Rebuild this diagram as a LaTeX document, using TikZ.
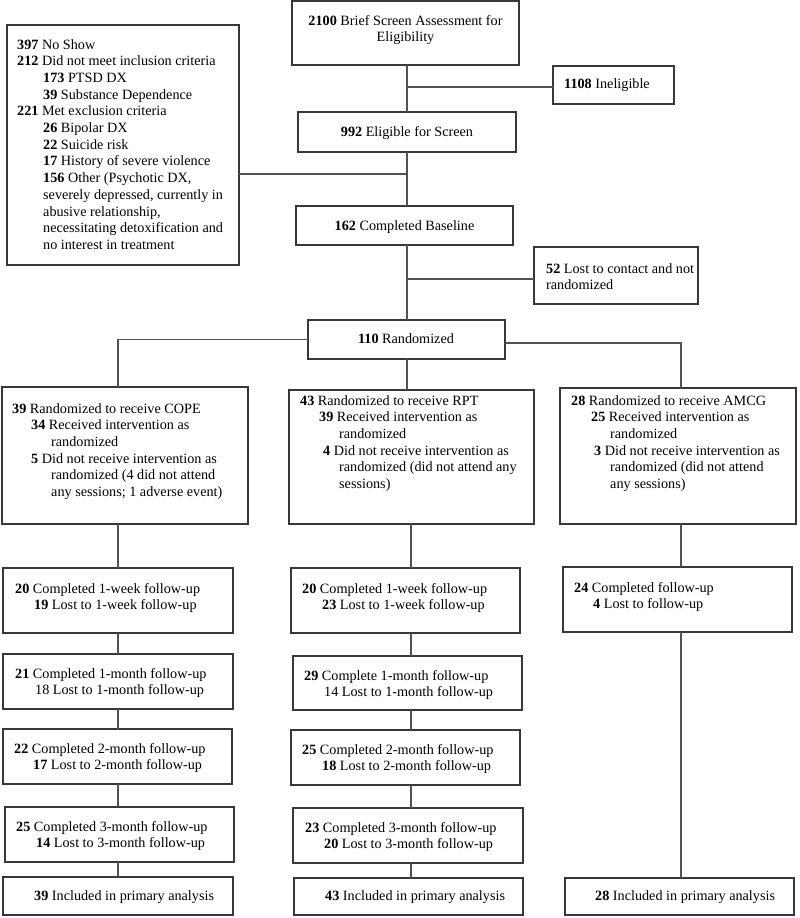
\documentclass[tikz,border=0pt]{standalone}
\usepackage{fontspec}
\setmainfont{Liberation Serif}
\usetikzlibrary{calc}
\newcommand\mybox[5]{\node[box,minimum width={#4-#2},minimum height={#5-#3}] (#1) at ({(#2+#4)/2},{(#3+#5)/2}) {};}
\tikzset{
  box/.style={draw=black!78,line width=1.1pt,inner sep=0pt,outer sep=0pt},
  txt/.style={inner sep=0pt,align=left,font=\fontsize{14.2}{16.7}\selectfont},
  ctxt/.style={inner sep=0pt,align=center,font=\fontsize{14.2}{16.7}\selectfont},
  conn/.style={draw=black!68,line width=1.1pt}
}
\begin{document}
\begin{tikzpicture}[x=1pt,y=-1pt]
\useasboundingbox (0,0) rectangle (800,918);
% boxes
\mybox{top}{292}{1}{519}{65}
\mybox{inel}{553}{66}{674}{104}
\mybox{elig}{298}{112}{516}{152}
\mybox{excl}{7}{25}{239}{265}
\mybox{base}{296}{206}{513}{245}
\mybox{lost}{534}{247}{698}{304}
\mybox{rand}{308}{320}{505}{359}
\mybox{cope}{2}{387}{248}{524}
\mybox{rpt}{289}{390}{534}{524}
\mybox{amcg}{560}{388}{796}{524}
\mybox{ca}{3}{568}{233}{633}
\mybox{cb}{3}{654}{233}{709}
\mybox{cc}{3}{729}{232}{784}
\mybox{cd}{5}{807}{234}{862}
\mybox{ce}{3}{877}{233}{915}
\mybox{ra}{291}{568}{520}{633}
\mybox{rb}{293}{656}{522}{710}
\mybox{rc}{291}{730}{520}{785}
\mybox{rd}{293}{808}{523}{863}
\mybox{re}{294}{878}{523}{915}
\mybox{aa}{563}{567}{792}{632}
\mybox{ae}{565}{878}{794}{915}
% texts
\node[ctxt,anchor=north] (top-t) at (405.5,15) {\textbf{2100} Brief Screen Assessment for\\Eligibility};
\node[txt,anchor=west] (inel-t) at (564,85) {\textbf{1108} Ineligible};
\node[txt] (elig-t) at (407,133) {\textbf{992} Eligible for Screen};
\node[txt] (base-t) at (404.5,227) {\textbf{162} Completed Baseline};
\node[txt,anchor=north west] (lost-t) at (546,263) {\textbf{52} Lost to contact and not\\randomized};
\node[txt] (rand-t) at (406,339) {\textbf{110} Randomized};
\node[txt,anchor=north west] (excl-t) at (17,39) {\textbf{397} No Show\\
\textbf{212} Did not meet inclusion criteria\\
\hspace*{26pt}\textbf{173} PTSD DX\\
\hspace*{26pt}\textbf{39} Substance Dependence\\
\textbf{221} Met exclusion criteria\\
\hspace*{26pt}\textbf{26} Bipolar DX\\
\hspace*{26pt}\textbf{22} Suicide risk\\
\hspace*{26pt}\textbf{17} History of severe violence\\
\hspace*{26pt}\textbf{156} Other (Psychotic DX,\\
\hspace*{26pt}severely depressed, currently in\\
\hspace*{26pt}abusive relationship,\\
\hspace*{26pt}necessitating detoxification and\\
\hspace*{26pt}no interest in treatment};
\node[txt,anchor=north west] (cope-t) at (12,403) {\textbf{39} Randomized to receive COPE\\
\hspace*{19pt}\textbf{34} Received intervention as\\
\hspace*{39pt}randomized\\
\hspace*{19pt}\textbf{5} Did not receive intervention as\\
\hspace*{39pt}randomized (4 did not attend\\
\hspace*{39pt}any sessions; 1 adverse event)};
\node[txt,anchor=north west] (rpt-t) at (300,395) {\textbf{43} Randomized to receive RPT\\
\hspace*{19pt}\textbf{39} Received intervention as\\
\hspace*{39pt}randomized\\
\hspace*{23pt}\textbf{4} Did not receive intervention as\\
\hspace*{39pt}randomized (did not attend any\\
\hspace*{39pt}sessions)};
\node[txt,anchor=north west] (amcg-t) at (571,395) {\textbf{28} Randomized to receive AMCG\\
\hspace*{20pt}\textbf{25} Received intervention as\\
\hspace*{39pt}randomized\\
\hspace*{23pt}\textbf{3} Did not receive intervention as\\
\hspace*{39pt}randomized (did not attend\\
\hspace*{39pt}any sessions)};
\node[txt,anchor=north west] (ca-t) at (15,583) {\textbf{20} Completed 1-week follow-up\\\hspace*{19pt}\textbf{19} Lost to 1-week follow-up};
\node[txt,anchor=north west] (cb-t) at (15,668) {\textbf{21} Completed 1-month follow-up\\\hspace*{20pt}18 Lost to 1-month follow-up};
\node[txt,anchor=north west] (cc-t) at (14,743) {\textbf{22} Completed 2-month follow-up\\\hspace*{19pt}\textbf{17} Lost to 2-month follow-up};
\node[txt,anchor=north west] (cd-t) at (16,821) {\textbf{25} Completed 3-month follow-up\\\hspace*{20pt}\textbf{14} Lost to 3-month follow-up};
\node[txt,anchor=west] (ce-t) at (34,897) {\textbf{39} Included in primary analysis};
\node[txt,anchor=north west] (ra-t) at (302,583) {\textbf{20} Completed 1-week follow-up\\\hspace*{20pt}\textbf{23} Lost to 1-week follow-up};
\node[txt,anchor=north west] (rb-t) at (304,670) {\textbf{29} Complete 1-month follow-up\\\hspace*{20pt}14 Lost to 1-month follow-up};
\node[txt,anchor=north west] (rc-t) at (302,744) {\textbf{25} Completed 2-month follow-up\\\hspace*{20pt}\textbf{18} Lost to 2-month follow-up};
\node[txt,anchor=north west] (rd-t) at (305,822) {\textbf{23} Completed 3-month follow-up\\\hspace*{19pt}\textbf{20} Lost to 3-month follow-up};
\node[txt,anchor=west] (re-t) at (325,897) {\textbf{43} Included in primary analysis};
\node[txt,anchor=north west] (aa-t) at (574,582) {\textbf{24} Completed follow-up\\\hspace*{19pt}\textbf{4} Lost to follow-up};
\node[txt,anchor=west] (ae-t) at (595,897) {\textbf{28} Included in primary analysis};
% connector columns
\coordinate (sx) at (407,0);
\coordinate (x1) at (118,0);
\coordinate (x2) at (411,0);
\coordinate (x3) at (681,0);
\coordinate (j1) at (407,87);
\coordinate (j2) at (407,174);
\coordinate (j3) at (407,279);
\coordinate (rr) at (505,343);
% connectors
\draw[conn] (top.south -| sx) -- (elig.north -| sx);
\draw[conn] (j1) -- (inel.west |- j1);
\draw[conn] (elig.south -| sx) -- (base.north -| sx);
\draw[conn] (excl.east |- j2) -- (j2);
\draw[conn] (base.south -| sx) -- (rand.north -| sx);
\draw[conn] (j3) -- (lost.west |- j3);
\draw[conn] (rand.south -| sx) -- (rpt.north -| sx);
\draw[conn] (rand.west) -| (cope.north -| x1);
\draw[conn] (rr) -| (amcg.north -| x3);
\draw[conn] (cope.south -| x1) -- (ca.north -| x1);
\draw[conn] (ca.south -| x1) -- (cb.north -| x1);
\draw[conn] (cb.south -| x1) -- (cc.north -| x1);
\draw[conn] (cc.south -| x1) -- (cd.north -| x1);
\draw[conn] (cd.south -| x1) -- (ce.north -| x1);
\draw[conn] (rpt.south -| x2) -- (ra.north -| x2);
\draw[conn] (ra.south -| x2) -- (rb.north -| x2);
\draw[conn] (rb.south -| x2) -- (rc.north -| x2);
\draw[conn] (rc.south -| x2) -- (rd.north -| x2);
\draw[conn] (rd.south -| x2) -- (re.north -| x2);
\draw[conn] (amcg.south -| x3) -- (aa.north -| x3);
\draw[conn] (aa.south -| x3) -- (ae.north -| x3);
\end{tikzpicture}
\end{document}
